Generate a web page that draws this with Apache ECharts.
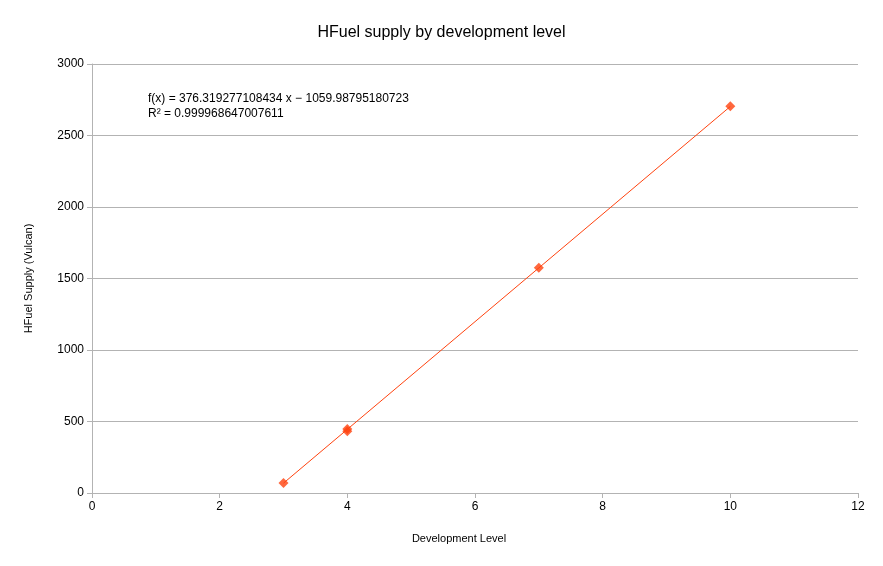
<!DOCTYPE html>
<html><head><meta charset="utf-8">
<script src="https://cdn.jsdelivr.net/npm/echarts@6/dist/echarts.min.js"></script>
<style>html,body{margin:0;padding:0;background:#fff}#c{width:883px;height:566px}</style>
</head><body><div id="c"></div>
<script>
const xValues = [3, 4, 4, 7, 10];
const yValues = [70, 432, 448, 1575, 2705];
const slope = 376.319277108434, intercept = -1059.98795180723;
const trendX = [3, 10];
const points = xValues.map((x, i) => [x, yValues[i]]);
const trend = trendX.map(x => [x, slope * x + intercept]);
const chart = echarts.init(document.getElementById('c'));
const font = 'Liberation Sans';
chart.setOption({
  animation: false,
  textStyle: {fontFamily: font},
  title: {text: 'HFuel supply by development level', left: 'center', top: 20,
    textStyle: {fontFamily: font, fontSize: 16, fontWeight: 'normal', color: '#000'}},
  grid: {left: 92, right: 25, top: 64, bottom: 73},
  xAxis: {type: 'value', min: 0, max: 12, interval: 2, name: 'Development Level',
    nameLocation: 'middle', nameGap: 40, nameTextStyle: {color: '#000', fontSize: 11, padding: [0, 32, 0, 0]},
    axisLine: {lineStyle: {color: '#b3b3b3'}}, axisTick: {show: true, lineStyle: {color: '#b3b3b3'}},
    axisLabel: {color: '#000', fontSize: 12}, splitLine: {show: false}},
  yAxis: {type: 'value', min: 0, max: 3000, interval: 500, name: 'HFuel Supply (Vulcan)',
    nameLocation: 'middle', nameGap: 58, nameTextStyle: {color: '#000', fontSize: 11},
    axisLine: {show: true, lineStyle: {color: '#b3b3b3'}}, axisTick: {show: true, lineStyle: {color: '#b3b3b3'}},
    axisLabel: {color: '#000', fontSize: 12, formatter: v => String(v)}, splitLine: {lineStyle: {color: '#b3b3b3'}}},
  graphic: [{type: 'text', left: 148, top: 91, style: {
    text: 'f(x) = 376.319277108434 x − 1059.98795180723\nR² = 0.999968647007611',
    font: '12px Liberation Sans', fill: '#000', lineHeight: 15}}],
  series: [
    {type: 'line', data: trend, symbol: 'none', lineStyle: {color: '#ff420e', width: 1}, z: 2},
    {type: 'scatter', data: points, symbol: 'diamond', symbolSize: 10, itemStyle: {color: '#ff420e'}, z: 3}
  ]
});
</script></body></html>
